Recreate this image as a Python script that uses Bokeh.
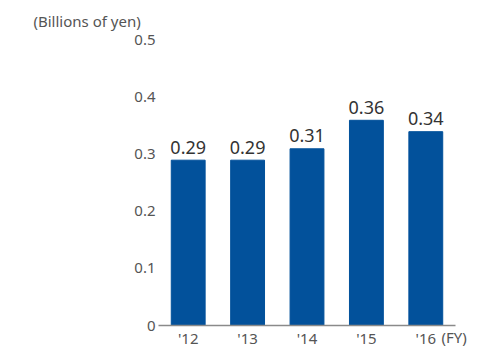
from bokeh.plotting import figure
from bokeh.models import (ColumnDataSource, FactorRange, Range1d, FixedTicker, LinearAxis)
from bokeh.embed import file_html
from bokeh.resources import INLINE
from bokeh.core.properties import value

years = ["'12", "'13", "'14", "'15", "'16"]
amounts = [0.29, 0.29, 0.31, 0.36, 0.34]
labels = ["0.29", "0.29", "0.31", "0.36", "0.34"]
y_ticks = [0, 0.1, 0.2, 0.3, 0.4, 0.5]
unit_label = "(Billions of yen)"
fy_label = "(FY)"

FONT = "Noto Sans"
BAR = "#02519b"
GREY = "#555555"

src = ColumnDataSource(dict(x=years, y=amounts, lab=labels))

p = figure(width=471, height=345, frame_width=297, frame_height=295,
           output_backend="svg", toolbar_location=None,
           x_range=FactorRange(*years, range_padding=0), y_range=Range1d(0, 0.5175),
           min_border_left=158, min_border_right=16, min_border_top=30, min_border_bottom=20)
p.outline_line_color = None
p.xgrid.grid_line_color = None
p.ygrid.grid_line_color = None

p.title.text = unit_label
p.title.align = "left"
p.title.offset = -125
p.title.standoff = 0
p.title.text_font = FONT
p.title.text_font_size = "15px"
p.title.text_font_style = "normal"
p.title.text_color = GREY

p.vbar(x="x", top="y", width=0.57, source=src, color=BAR)
p.text(x="x", y="y", text="lab", source=src, text_align="center",
       text_baseline="alphabetic", y_offset=-13, text_font=value(FONT),
       text_font_size="18px", text_color="#333333")

yax = p.yaxis[0]
yax.ticker = FixedTicker(ticks=y_ticks)
yax.major_label_overrides = {0: "0"}
yax.axis_line_color = None
yax.major_tick_line_color = None
yax.major_tick_out = 0
yax.minor_tick_line_color = None
yax.major_label_standoff = 3
yax.major_label_text_font = FONT
yax.major_label_text_font_size = "15px"
yax.major_label_text_color = GREY

xax = p.xaxis[0]
xax.axis_line_color = "#8a8a8a"
xax.axis_line_width = 1.5
xax.major_tick_line_color = None
xax.major_tick_out = 0
xax.minor_tick_line_color = None
xax.major_label_standoff = 2
xax.major_label_text_font = FONT
xax.major_label_text_font_size = "15px"
xax.major_label_text_color = GREY

# "(FY)" unit note at the right end of the category axis
p.extra_y_ranges = {"fy": Range1d(0, 1)}
fy_ax = LinearAxis(y_range_name="fy", ticker=FixedTicker(ticks=[0]),
                   major_label_overrides={0: "\n" + fy_label})
fy_ax.axis_line_color = None
fy_ax.major_tick_line_color = None
fy_ax.major_tick_out = 0
fy_ax.minor_tick_line_color = None
fy_ax.major_label_standoff = -14
fy_ax.major_label_text_line_height = 1.85
fy_ax.major_label_text_font = FONT
fy_ax.major_label_text_font_size = "15px"
fy_ax.major_label_text_color = GREY
p.add_layout(fy_ax, "right")

open("out.html", "w").write(file_html(p, INLINE))
